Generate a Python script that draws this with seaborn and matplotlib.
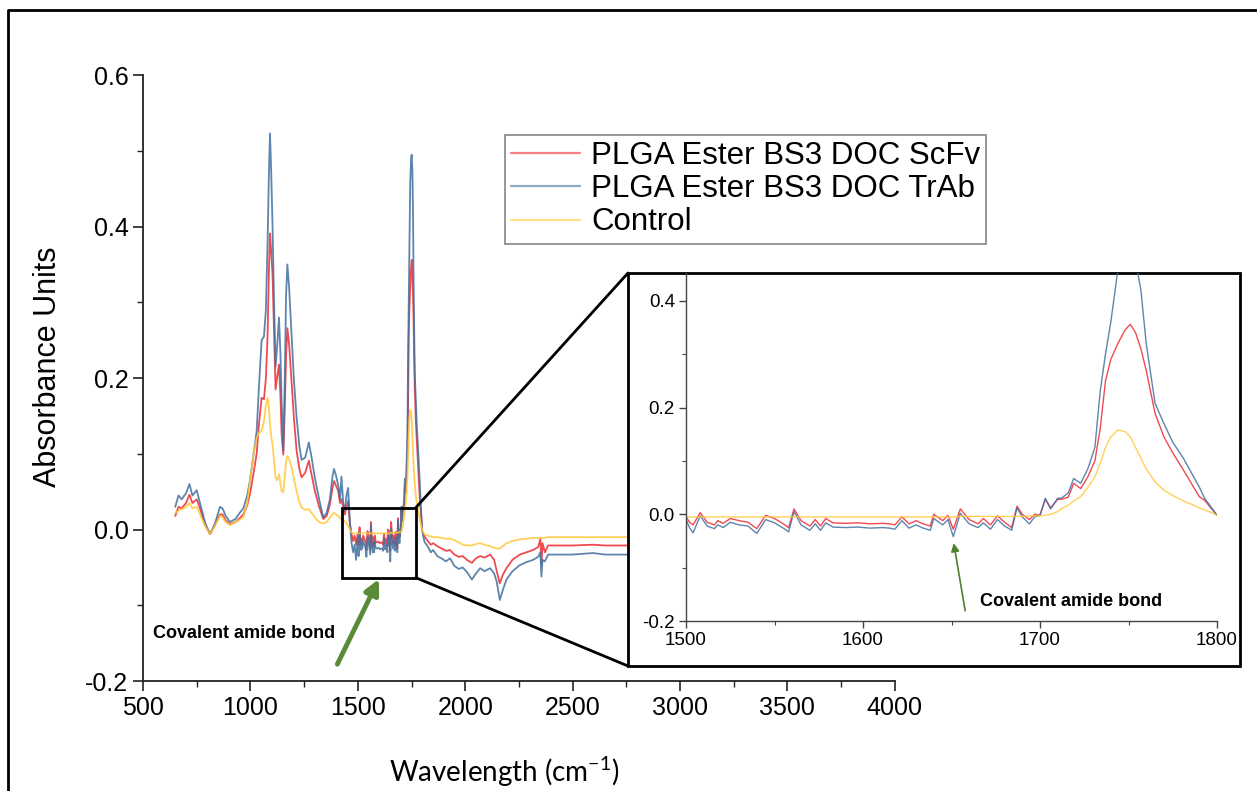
import pandas as pd
import matplotlib
matplotlib.use('Agg')
import matplotlib.pyplot as plt
import seaborn as sns
from matplotlib.patches import Rectangle, ConnectionPatch
from matplotlib.lines import Line2D
from matplotlib.ticker import MultipleLocator, FormatStrFormatter

# wavenumber (cm-1) and absorbance
wavenumber = [
    650, 665, 680, 700, 716, 730, 750, 765, 790, 812, 835, 858, 870, 885, 905, 930, 950, 967, 985, 998,
    1015, 1029, 1040, 1052, 1063, 1072, 1080, 1086, 1091, 1096, 1103, 1110, 1117, 1124, 1133, 1140, 1145, 1153, 1160, 1166,
    1172, 1180, 1192, 1203, 1215, 1228, 1238, 1255, 1272, 1285, 1300, 1320, 1339, 1355, 1370, 1382, 1389, 1398, 1409, 1417,
    1424, 1432, 1440, 1447, 1455, 1463, 1471, 1478, 1485, 1492,
    1500, 1502, 1504, 1508, 1512, 1516, 1518, 1521, 1525, 1530, 1535, 1540, 1545, 1550, 1555, 1558, 1561, 1565, 1570, 1573,
    1576, 1579, 1583, 1590, 1597, 1604, 1611, 1615, 1618, 1622, 1626, 1630, 1634, 1638, 1640, 1645, 1648, 1651, 1655, 1660,
    1665, 1668, 1672, 1676, 1680, 1684, 1687, 1690, 1694, 1697, 1700, 1703, 1706, 1710,
    1712, 1716, 1719, 1723, 1727, 1731, 1734, 1737, 1740, 1744, 1748, 1751, 1754, 1757, 1760, 1765, 1770, 1775, 1781, 1786,
    1790, 1793, 1797, 1800,
    1810, 1825, 1840, 1851, 1870, 1890, 1910, 1929, 1950, 1970, 1988, 2008, 2031, 2050, 2070, 2090, 2116, 2135, 2147, 2161,
    2175, 2192, 2220, 2254, 2285, 2316, 2340, 2350, 2355, 2360, 2371, 2386, 2420, 2500, 2595, 2650, 2760, 3000, 3500, 4000,
]

scfv = [
    0.018, 0.030, 0.028, 0.035, 0.046, 0.035, 0.040, 0.028, 0.005, -0.006, 0.006, 0.020, 0.020, 0.012, 0.007, 0.010, 0.015, 0.020, 0.032, 0.047,
    0.075, 0.100, 0.140, 0.174, 0.172, 0.200, 0.258, 0.340, 0.391, 0.370, 0.336, 0.260, 0.185, 0.200, 0.218, 0.175, 0.127, 0.099, 0.160, 0.230,
    0.266, 0.245, 0.192, 0.145, 0.104, 0.080, 0.069, 0.075, 0.091, 0.072, 0.051, 0.030, 0.014, 0.018, 0.033, 0.055, 0.064, 0.058, 0.051, 0.035,
    0.040, 0.030, 0.020, 0.030, 0.038, 0.008, -0.006, -0.015, -0.008, -0.020,
    -0.005, -0.015, -0.020, 0.003, -0.015, -0.020, -0.012, -0.017, -0.008, -0.012, -0.015, -0.027, -0.002, -0.008, -0.018, -0.025, 0.010, -0.012, -0.022, -0.010,
    -0.022, -0.008, -0.016, -0.017, -0.016, -0.018, -0.017, -0.018, -0.020, -0.005, -0.018, -0.012, -0.018, -0.022, 0.000, -0.012, -0.002, -0.028, 0.010, -0.010,
    -0.018, -0.008, -0.020, -0.003, -0.015, -0.025, 0.015, 0.000, -0.010, 0.000, -0.002, 0.028, 0.012, 0.028,
    0.028, 0.032, 0.058, 0.048, 0.070, 0.100, 0.160, 0.250, 0.290, 0.320, 0.345, 0.356, 0.340, 0.310, 0.270, 0.189, 0.145, 0.115, 0.083, 0.055,
    0.033, 0.026, 0.010, -0.002,
    -0.009, -0.015, -0.020, -0.018, -0.022, -0.025, -0.028, -0.027, -0.033, -0.036, -0.035, -0.040, -0.044, -0.038, -0.035, -0.037, -0.033, -0.040, -0.055, -0.071,
    -0.060, -0.051, -0.040, -0.033, -0.030, -0.027, -0.023, -0.012, -0.045, -0.018, -0.030, -0.021, -0.021, -0.021, -0.020, -0.021, -0.021, -0.021, -0.021, -0.021,
]

trab = [
    0.030, 0.045, 0.040, 0.048, 0.060, 0.045, 0.052, 0.035, 0.008, -0.006, 0.008, 0.030, 0.028, 0.018, 0.010, 0.014, 0.022, 0.028, 0.045, 0.065,
    0.100, 0.130, 0.190, 0.250, 0.255, 0.290, 0.380, 0.470, 0.523, 0.480, 0.400, 0.300, 0.215, 0.240, 0.280, 0.230, 0.170, 0.105, 0.200, 0.310,
    0.350, 0.320, 0.255, 0.195, 0.148, 0.110, 0.092, 0.095, 0.115, 0.095, 0.068, 0.040, 0.016, 0.022, 0.040, 0.070, 0.080, 0.072, 0.058, 0.040,
    0.070, 0.035, 0.025, 0.045, 0.055, 0.010, -0.018, -0.030, -0.020, -0.040,
    -0.010, -0.025, -0.035, -0.003, -0.022, -0.027, -0.020, -0.025, -0.015, -0.020, -0.022, -0.036, -0.010, -0.016, -0.026, -0.033, 0.005, -0.020, -0.030, -0.018,
    -0.030, -0.016, -0.024, -0.025, -0.024, -0.026, -0.025, -0.026, -0.028, -0.012, -0.026, -0.020, -0.026, -0.030, -0.008, -0.020, -0.010, -0.042, 0.002, -0.018,
    -0.025, -0.016, -0.028, -0.010, -0.022, -0.030, 0.012, -0.005, -0.018, -0.005, -0.002, 0.030, 0.010, 0.030,
    0.030, 0.040, 0.067, 0.058, 0.085, 0.125, 0.230, 0.300, 0.360, 0.458, 0.490, 0.495, 0.475, 0.420, 0.320, 0.208, 0.170, 0.135, 0.105, 0.075,
    0.051, 0.030, 0.012, -0.002,
    -0.016, -0.022, -0.030, -0.027, -0.035, -0.038, -0.042, -0.038, -0.048, -0.052, -0.050, -0.056, -0.066, -0.058, -0.051, -0.055, -0.051, -0.058, -0.069, -0.093,
    -0.080, -0.066, -0.055, -0.047, -0.043, -0.040, -0.036, -0.030, -0.062, -0.040, -0.042, -0.033, -0.033, -0.033, -0.031, -0.033, -0.033, -0.033, -0.033, -0.033,
]

control = [
    0.022, 0.025, 0.027, 0.030, 0.035, 0.028, 0.030, 0.020, 0.004, -0.006, 0.005, 0.018, 0.016, 0.010, 0.006, 0.010, 0.013, 0.016, 0.035, 0.064,
    0.100, 0.121, 0.128, 0.130, 0.143, 0.165, 0.174, 0.160, 0.140, 0.125, 0.112, 0.090, 0.069, 0.065, 0.073, 0.060, 0.051, 0.049, 0.070, 0.090,
    0.097, 0.093, 0.082, 0.066, 0.051, 0.036, 0.029, 0.026, 0.027, 0.022, 0.016, 0.010, 0.008, 0.010, 0.016, 0.020, 0.022, 0.020, 0.018, 0.015,
    0.014, 0.012, 0.011, 0.008, 0.005, 0.000, -0.004, -0.005, -0.005, -0.005,
    -0.005, -0.005, -0.005, -0.005, -0.005, -0.005, -0.005, -0.005, -0.005, -0.005, -0.005, -0.005, -0.005, -0.005, -0.005, -0.005, -0.005, -0.005, -0.005, -0.005,
    -0.005, -0.005, -0.005, -0.005, -0.005, -0.005, -0.005, -0.005, -0.005, -0.005, -0.005, -0.005, -0.005, -0.005, -0.005, -0.005, -0.005, -0.005, -0.004, -0.004,
    -0.004, -0.004, -0.004, -0.004, -0.004, -0.004, -0.004, -0.004, -0.003, -0.003, -0.003, -0.002, 0.000, 0.005,
    0.010, 0.017, 0.025, 0.033, 0.050, 0.070, 0.095, 0.125, 0.145, 0.158, 0.155, 0.145, 0.125, 0.105, 0.085, 0.061, 0.045, 0.035, 0.025, 0.018,
    0.012, 0.008, 0.003, -0.002,
    -0.006, -0.008, -0.009, -0.010, -0.010, -0.011, -0.012, -0.012, -0.014, -0.017, -0.020, -0.021, -0.021, -0.019, -0.018, -0.020, -0.022, -0.024, -0.025, -0.025,
    -0.022, -0.018, -0.015, -0.013, -0.012, -0.011, -0.011, -0.011, -0.011, -0.011, -0.011, -0.010, -0.010, -0.010, -0.010, -0.010, -0.010, -0.010, -0.010, -0.010,
]

labels = ['PLGA Ester BS3 DOC ScFv', 'PLGA Ester BS3 DOC TrAb', 'Control']
colors = ['#ee2a33', '#41709f', '#ffc93a']

frames = []
for lab, vals in zip(labels, [scfv, trab, control]):
    frames.append(pd.DataFrame({'wavenumber': wavenumber, 'absorbance': vals, 'sample': lab}))
df = pd.concat(frames, ignore_index=True)
palette = dict(zip(labels, colors))

sns.set_style('ticks')
plt.rcParams['font.family'] = ['Liberation Sans', 'DejaVu Sans']
plt.rcParams['text.color'] = 'black'
plt.rcParams['xtick.color'] = '#222222'
plt.rcParams['ytick.color'] = '#222222'
plt.rcParams['xtick.labelcolor'] = 'black'
plt.rcParams['ytick.labelcolor'] = 'black'

fig = plt.figure(figsize=(12.57, 7.91), dpi=100)
ax = fig.add_axes([0.1138, 0.139, 0.598, 0.766])

sns.lineplot(data=df, x='wavenumber', y='absorbance', hue='sample', palette=palette,
             estimator=None, sort=False, linewidth=1.3, alpha=0.85, legend=False, ax=ax)

ax.set_xlim(500, 4000)
ax.set_ylim(-0.2, 0.6)
ax.xaxis.set_major_locator(MultipleLocator(500))
ax.xaxis.set_minor_locator(MultipleLocator(250))
ax.yaxis.set_major_locator(MultipleLocator(0.2))
ax.yaxis.set_minor_locator(MultipleLocator(0.1))
ax.yaxis.set_major_formatter(FormatStrFormatter('%.1f'))
sns.despine(ax=ax)
for s in ['left', 'bottom']:
    ax.spines[s].set_linewidth(1.3)
    ax.spines[s].set_color('#222222')
ax.tick_params(which='major', length=7, width=1.2, labelsize=18)
ax.tick_params(which='minor', length=4, width=1.0)
ax.set_xlabel('')
ax.set_ylabel('')

fig.text(48 / 1257, 1 - 367 / 791, 'Absorbance Units', rotation=90, fontsize=22,
         ha='center', va='center')
fig.text(504 / 1257, 1 - 772 / 791, r'Wavelength (cm$^{\mathregular{-1}}$)', fontsize=20,
         family=['Lato', 'DejaVu Sans'], ha='center', va='center')

handles = [Line2D([], [], color=c, lw=1.6, alpha=0.6) for c in colors]
leg = ax.legend(handles, labels, loc='upper left', bbox_to_anchor=(505 / 1257, 1 - 135 / 791),
                bbox_transform=fig.transFigure, borderaxespad=0, fontsize=22.5, frameon=True,
                fancybox=False, handlelength=2.2, handletextpad=0.35, labelspacing=0.1,
                borderpad=0.2)
leg.get_frame().set_edgecolor('#666666')
leg.get_frame().set_linewidth(1.2)

# zoom box on the main plot
ax.add_patch(Rectangle((1426, -0.0635), 344, 0.0925, fill=False, lw=2, ec='black', zorder=5))

ax.annotate('', xy=(1604, -0.062), xytext=(1399, -0.181),
            arrowprops=dict(arrowstyle='-|>', color='#5b8a38', lw=3.5, mutation_scale=22))
ax.text(547, -0.1376, 'Covalent amide bond', fontsize=13, fontweight='bold', ha='left', va='center')

# inset frame + connectors
box = Rectangle((628 / 1257, 1 - 666 / 791), (1240 - 628) / 1257, (666 - 273) / 791,
                transform=fig.transFigure, fc='white', ec='black', lw=2, zorder=1)
fig.patches.append(box)
for yd, yf in [(0.029, 1 - 273 / 791), (-0.0635, 1 - 666 / 791)]:
    con = ConnectionPatch(xyA=(1770, yd), coordsA=ax.transData,
                          xyB=(628 / 1257, yf), coordsB=fig.transFigure,
                          color='black', lw=2)
    con.set_zorder(1.5)
    fig.add_artist(con)

ins = fig.add_axes([686 / 1257, 1 - 621 / 791, (1217 - 686) / 1257, (621 - 273) / 791])
ins.set_zorder(2)
ins.patch.set_alpha(0)
sns.lineplot(data=df[(df['wavenumber'] >= 1500) & (df['wavenumber'] <= 1800)],
             x='wavenumber', y='absorbance', hue='sample', palette=palette,
             estimator=None, sort=False, linewidth=1.0, alpha=0.85, legend=False, ax=ins)
ins.set_xlim(1500, 1800)
ins.set_ylim(-0.2, 0.452)
ins.xaxis.set_major_locator(MultipleLocator(100))
ins.xaxis.set_minor_locator(MultipleLocator(50))
ins.yaxis.set_major_locator(MultipleLocator(0.2))
ins.yaxis.set_minor_locator(MultipleLocator(0.1))
ins.yaxis.set_major_formatter(FormatStrFormatter('%.1f'))
sns.despine(ax=ins)
for s in ['left', 'bottom']:
    ins.spines[s].set_linewidth(1.0)
    ins.spines[s].set_color('#444444')
ins.tick_params(which='major', length=5, width=1.0, labelsize=13.5, color='#444444', pad=3)
ins.tick_params(which='minor', length=3, width=0.8, color='#444444')
ins.set_xlabel('')
ins.set_ylabel('')
ins.annotate('', xy=(1651, -0.049), xytext=(1658, -0.186),
             arrowprops=dict(arrowstyle='-|>', color='#4f7f2f', lw=1.2, mutation_scale=12))
ins.text(1666, -0.163, 'Covalent amide bond', fontsize=13, fontweight='bold', ha='left', va='center')

# outer frame of the picture
fig.add_artist(Line2D([0.006, 0.006, 1.0], [0.0, 0.987, 0.987], transform=fig.transFigure,
                      color='black', lw=2))

fig.savefig('out.png', dpi=100)
